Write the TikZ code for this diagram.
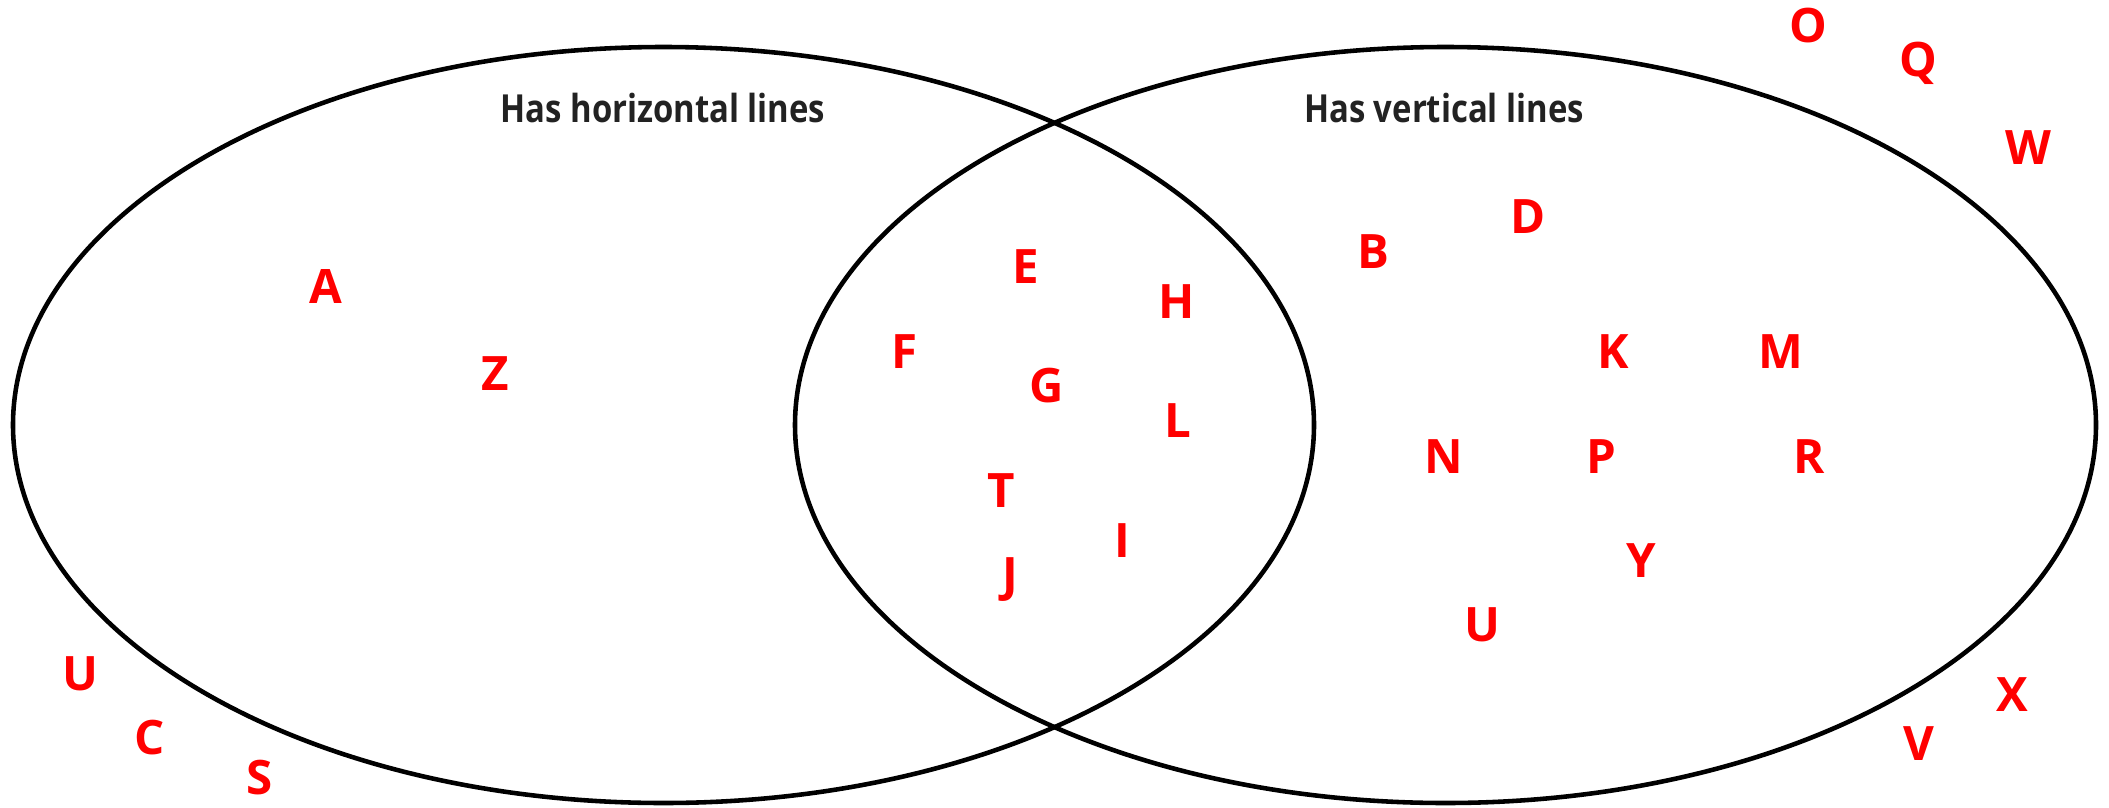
\documentclass[tikz,border=0pt]{standalone}
\usepackage{fontspec}
\setmainfont{Open Sans}
\usepackage{tikz}
\usetikzlibrary{positioning}
\definecolor{letterred}{RGB}{255, 0, 0}
\definecolor{headgray}{RGB}{34, 34, 34}

\tikzset{
  setline/.style={black, line width=1.3pt},
  heading/.style={headgray, font=\fontsize{11}{13}\selectfont\bfseries, anchor=base,
    inner sep=0pt, xscale=0.85, transform shape},
  letter/.style={letterred, font=\fontsize{13.5}{16}\selectfont\bfseries, anchor=base, inner sep=0pt}
}

\begin{document}
\begin{tikzpicture}

\useasboundingbox (0,0) rectangle (21.09,8.07);

% ============================================================
% the two sets
% ============================================================
\draw[setline] (6.635,3.82) ellipse [x radius=6.505, y radius=3.78];
\draw[setline] (14.455,3.82) ellipse [x radius=6.505, y radius=3.78];

\node[heading] (horiz) at (6.63,6.85) {Has horizontal lines};
\node[heading] (vert) at (14.44,6.85) {Has vertical lines};

% ============================================================
% only horizontal lines
% ============================================================
\node[letter] (lettA) at (3.26,5.04) {A};
\node[letter] (lettZ) at (4.95,4.17) {Z};

% ============================================================
% both (overlap)
% ============================================================
\node[letter] (lettE) at (10.26,5.24) {E};
\node[letter] (lettH) at (11.77,4.89) {H};
\node[letter] (lettF) at (9.05,4.39) {F};
\node[letter] (lettG) at (10.47,4.05) {G};
\node[letter] (lettL) at (11.78,3.70) {L};
\node[letter] (lettT) at (10.01,3.00) {T};
\node[letter] (lettI) at (11.22,2.50) {I};
\node[letter] (lettJ) at (10.10,2.16) {J};

% ============================================================
% only vertical lines
% ============================================================
\node[letter] (lettB) at (13.73,5.39) {B};
\node[letter] (lettD) at (15.28,5.74) {D};
\node[letter] (lettK) at (16.13,4.39) {K};
\node[letter] (lettM) at (17.81,4.39) {M};
\node[letter] (lettN) at (14.435,3.34) {N};
\node[letter] (lettP) at (16.01,3.34) {P};
\node[letter] (lettR) at (18.09,3.34) {R};
\node[letter] (lettY) at (16.41,2.30) {Y};
\node[letter] (lettU) at (14.82,1.66) {U};

% ============================================================
% outside both sets
% ============================================================
\node[letter] (lettO) at (18.08,7.65) {O};
\node[letter] (lettQ) at (19.18,7.31) {Q};
\node[letter] (lettW) at (20.28,6.43) {W};
\node[letter] (lettX) at (20.12,0.96) {X};
\node[letter] (lettV) at (19.19,0.47) {V};
\node[letter] (lettUout) at (0.805,1.17) {U};
\node[letter] (lettC) at (1.50,0.53) {C};
\node[letter] (lettS) at (2.60,0.13) {S};

\end{tikzpicture}
\end{document}
